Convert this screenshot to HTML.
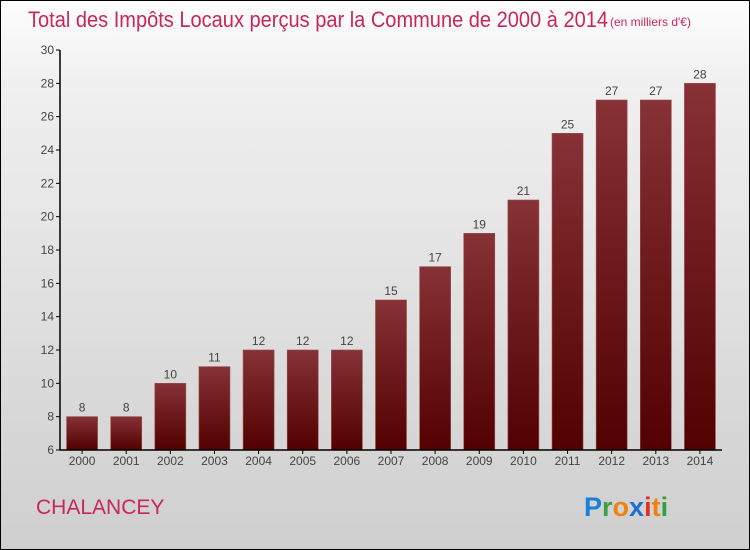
<!DOCTYPE html>
<html><head><meta charset="utf-8"><style>
body{margin:0}
#c{position:relative;width:750px;height:550px;box-sizing:border-box;border:1px solid #000;background:linear-gradient(#fdfdfd,#f0f0f0 15%,#d8d8d8 75%,#cfcfcf);font-family:"Liberation Sans",sans-serif;overflow:hidden}
</style></head><body>
<div id="c">
<svg width="750" height="550" style="position:absolute;left:-1px;top:-1px">
<defs><linearGradient id="g" x1="0" y1="0" x2="0" y2="1"><stop offset="0" stop-color="#873236"/><stop offset="1" stop-color="#520000"/></linearGradient></defs>
<text x="28" y="27" font-size="22" fill="#c8275a" textLength="580" lengthAdjust="spacingAndGlyphs" style="font-weight:300">Total des Impôts Locaux perçus par la Commune de 2000 à 2014</text>
<text x="610" y="26" font-size="12" fill="#c8275a">(en milliers d'€)</text>
<g id="plot"></g>
<text x="36" y="514" font-size="21" fill="#c8275a">CHALANCEY</text>
<g font-size="27" font-weight="bold">
<text x="584" y="516"><tspan fill="#1a7fd8">P</tspan><tspan fill="#3aa04a">r</tspan><tspan fill="#f08010">o</tspan><tspan fill="#1a6fd0">x</tspan><tspan fill="#e03020">i</tspan><tspan fill="#f08010">t</tspan><tspan fill="#30a040">i</tspan></text></g>
</svg>
</div>
<script>
const years=["2000","2001","2002","2003","2004","2005","2006","2007","2008","2009","2010","2011","2012","2013","2014"];
const values=[8,8,10,11,12,12,12,15,17,19,21,25,27,27,28];
const yTicks=[6,8,10,12,14,16,18,20,22,24,26,28,30];
const ns="http://www.w3.org/2000/svg";
const g=document.getElementById('plot');
const X0=60,X1=722,Y0=450,Y1=50,ymin=6,ymax=30;
const band=(X1-X0)/years.length;
const y=v=>Y0-(v-ymin)/(ymax-ymin)*(Y0-Y1);
const x=i=>X0+band*(i+0.5);
function mk(t,a){const e=document.createElementNS(ns,t);for(const k in a)e.setAttribute(k,a[k]);g.appendChild(e);return e;}
yTicks.forEach(t=>{
 const l=mk('line',{x1:X0-4,x2:X0,y1:y(t),y2:y(t),stroke:'#000'});
 
 
 const tx=mk('text',{x:X0-6,y:y(t)+4,'text-anchor':'end','font-size':12,fill:'#444'});tx.textContent=t;
 
 
});
values.forEach((v,i)=>{
 const r=mk('rect',{x:x(i)-15.5,y:y(v),width:31,height:Y0-y(v),fill:'url(#g)',stroke:'#9a4a4e','stroke-width':0.6});
 
 
 const t=mk('text',{x:x(i),y:y(v)-5,'text-anchor':'middle','font-size':12,fill:'#444'});t.textContent=v;
 
 
 const xl=mk('text',{x:x(i),y:Y0+15,'text-anchor':'middle','font-size':12,fill:'#444'});xl.textContent=years[i];
 
 
 const tk=mk('line',{x1:x(i),x2:x(i),y1:Y0,y2:Y0+4,stroke:'#000'});
 
 
});
const ya=mk('line',{x1:X0,x2:X0,y1:Y1,y2:Y0,stroke:'#000','stroke-width':1.5});


const xa=mk('line',{x1:X0,x2:X1,y1:Y0,y2:Y0,stroke:'#000','stroke-width':1.5});


</script>
</body></html>
